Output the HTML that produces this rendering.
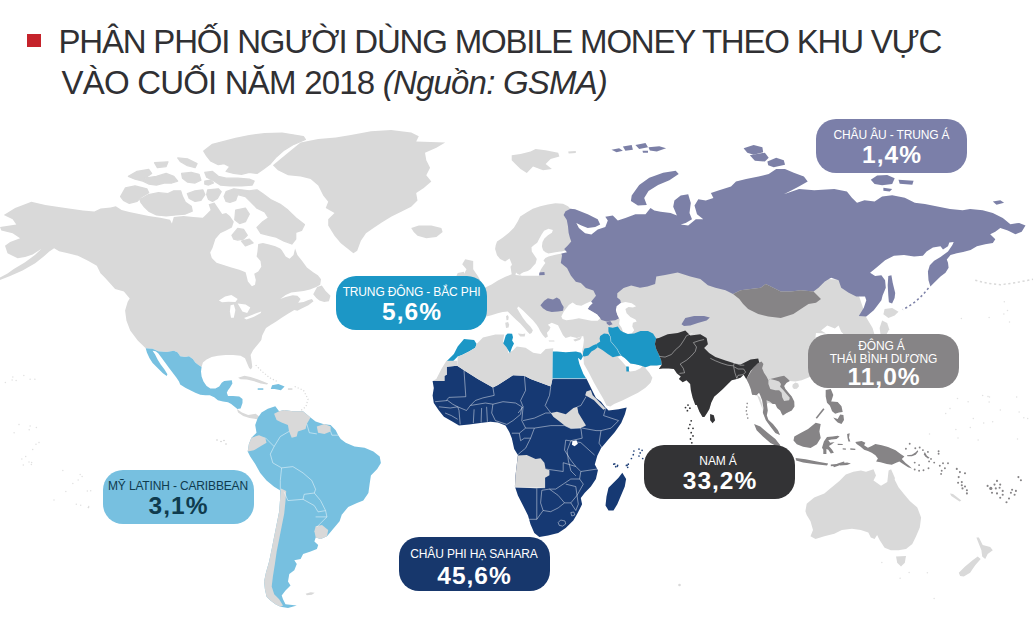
<!DOCTYPE html>
<html lang="vi">
<head>
<meta charset="utf-8">
<title>Mobile Money</title>
<style>
html,body{margin:0;padding:0;background:#fff;}
body{width:1034px;height:636px;position:relative;overflow:hidden;font-family:"Liberation Sans",sans-serif;}
#sq{position:absolute;left:27px;top:34px;width:14px;height:13px;background:#c5232b;}
.t{position:absolute;left:58.5px;white-space:nowrap;font-size:33px;line-height:40px;color:#303033;}
#t1{top:21.5px;letter-spacing:-1.2px;}
#t2{top:62.5px;left:61.5px;letter-spacing:-0.8px;}

#map{position:absolute;left:0;top:0;width:1034px;height:636px;}
.pill{position:absolute;width:151px;height:54px;border-radius:20px;color:#fff;text-align:center;}
.pill .l{position:absolute;left:-20px;right:-20px;white-space:nowrap;font-size:12px;line-height:12px;letter-spacing:-0.15px;}
.pill .n{position:absolute;left:0;right:0;font-weight:bold;font-size:24.5px;line-height:24px;white-space:nowrap;letter-spacing:1px;text-indent:1px;}
</style>
</head>
<body>
<svg id="map" viewBox="0 0 1034 636">
<!--MAP-->
<path d="M3.8,215 15.1,208 31.4,201.7 45.3,205 65.4,208 83,210.5 94.3,211.5 100.6,208.5 110.6,207.5 115.8,206.2 121.6,210.1 129.3,212 139,214 148.7,215.9 160.3,217.8 170,219.8 171.9,223.6 173.8,216.9 183.5,215.9 193.2,216.9 202.8,217.8 206.7,214 210.6,210.1 208.6,204.3 214.4,202.4 218.3,208.2 222.2,214 226.1,213 229.9,215.9 233.8,221.7 231.9,227.5 226.1,230.4 220.3,233.3 215.4,239.1 212.5,248 210.2,252.5 211.8,258 216.5,262.7 223.6,265.1 231.4,267.4 239.3,269.8 245.6,272.2 246.4,275.3 247.9,281.6 251.9,286.3 255,284.7 255.8,280 254.2,273.7 258.2,271.4 261.3,266.7 260.5,261.1 256.6,256.4 257.4,251.7 258.2,243.9 262.9,243.1 269.2,244.6 275.4,246.2 280.2,248.6 281.7,250.1 285.7,256.4 289.6,258.8 293.5,254.9 295.1,248.6 297.4,254.9 302.2,261.1 306.9,267.4 313.2,272.2 317.9,275.3 321,279.2 320.2,284.7 316.3,287.1 310,289.4 303.7,291 297.4,291.8 291.2,292.6 285.7,294.9 280.2,298.9 285.7,297 292.7,295.3 297.4,295.7 300.6,298.9 298.2,302.8 303.7,302 308.4,300.1 311.9,298.9 313.5,301.2 308.4,305.2 302.2,308.3 297.4,310.7 294.3,309.9 288,313.8 281.7,317.7 277,320.9 270.7,325 273.5,323 266,328.1 262.2,335.6 261.3,340 259.4,342.5 253.2,350.1 250.6,355.1 251.6,361.4 252.3,367 250.9,369.5 249.1,367.9 247.1,363.3 245,358.2 240.6,355.7 233,355.1 225.5,355.1 217.9,355.7 211.7,357 206.6,359.5 202.9,362.6 201.6,367 198.5,365.1 195.3,362.6 192.8,358.9 189,356.3 185.3,357 180.2,356.3 177.7,352.6 173.9,350.7 166.4,351.9 158.2,351.3 152.6,348.8 145.7,348.2 137.7,340.6 130.2,330.6 126.4,320.5 125.1,310.5 127.7,301.7 129.7,298.4 123.9,291.6 115.1,289.1 105,277.8 100,272.7 100.6,273.4 96.8,265.8 88,260.8 77.9,255.8 67.9,253.3 59.1,251.3 54.1,248.2 49,251.8 44,256.3 35.2,263.3 22.6,270.4 10.1,275.9 0,279.9 0,277.4 7.5,273.4 13.8,268.9 25.1,262.3 35.2,254.8 41.5,248.7 32.7,254.5 25.1,257 17.6,258.3 7.5,253.3 5,245.7 10.1,242 20.1,238.2 12.6,233.2 1.3,230.6 0,226.9 16.3,224.4 12.6,219.3Z" fill="#d9d9d9" />
<path d="M313.2,294.2 317.1,287.1 321.8,285.5 325.7,291 330.5,295.7 328.9,301.2 324.2,302 319.4,300.4 316.3,298.1Z" fill="#d9d9d9" />
<path d="M218.9,300.4 225.1,296.5 231.4,294.9 237.7,298.9 235.4,302 228.3,301.7 222,302.3Z" fill="#ffffff" />
<path d="M230.6,305.2 233.8,304.4 235.4,309.9 233.8,317.7 231,317.7 229.9,311.4Z" fill="#ffffff" />
<path d="M237.7,303.6 245.6,304.4 250.3,307.5 247.2,313 242.4,311.4 240.1,307.5Z" fill="#ffffff" />
<path d="M244,318 251.9,314.9 261.3,311.4 260.8,313 253.4,317.1 246.4,319.6Z" fill="#ffffff" />
<path d="M120.6,196.6 125.5,187.9 135.1,185.9 146.8,188.8 148.7,192.7 141.9,196.6 137.1,201.4 129.3,203.3 123.5,200.4Z" fill="#d9d9d9" stroke="#d9d9d9" stroke-width="1.3" stroke-linejoin="round"/>
<path d="M140,199.5 148.7,194.6 158.4,192.7 168,193.7 173.8,190.8 180.6,190.8 182.5,196.6 185.4,202.4 191.2,206.2 192.2,211.1 185.4,214 175.8,214.9 166.1,215.9 156.4,214.9 148.7,211.1 143.8,206.2 140.9,202.4Z" fill="#d9d9d9" stroke="#d9d9d9" stroke-width="1.3" stroke-linejoin="round"/>
<path d="M128.4,176.3 137.1,171.4 148.7,169.5 151.6,173.4 144.8,178.2 156.4,176.3 166.1,173.4 173.8,176.3 177.7,181.1 171.9,183 164.2,183 156.4,185 148.7,184 142.9,181.1 135.1,179.2Z" fill="#d9d9d9" stroke="#d9d9d9" stroke-width="1.3" stroke-linejoin="round"/>
<path d="M154.5,162.7 168,161.8 166.1,166.6 157.4,167.6Z" fill="#d9d9d9" stroke="#d9d9d9" stroke-width="1.3" stroke-linejoin="round"/>
<path d="M177.7,157.9 187.4,158.8 197,163.7 195.1,167.6 187.4,165.6 180.6,161.8Z" fill="#d9d9d9" stroke="#d9d9d9" stroke-width="1.3" stroke-linejoin="round"/>
<path d="M181.6,173.4 191.2,172.4 199,174.3 200.9,180.1 195.1,183 187.4,182.1 182.5,178.2Z" fill="#d9d9d9" stroke="#d9d9d9" stroke-width="1.3" stroke-linejoin="round"/>
<path d="M203.8,151.1 212.5,144.3 224.1,141.4 235.7,138.5 249.3,135.6 264.7,133.7 282.1,133.1 303.4,136.6 305.4,139.5 293.8,144.3 284.1,150.1 276.3,156.9 270.5,163.7 262.8,169.5 257,173.4 249.3,172.4 241.5,174.3 233.8,173.4 226.1,171.4 229.9,166.6 224.1,163.7 218.3,164.7 210.6,160.8 206.7,155.9Z" fill="#d9d9d9" stroke="#d9d9d9" stroke-width="1.3" stroke-linejoin="round"/>
<path d="M204.8,172.4 212.5,171.4 218.3,176.3 226.1,178.2 237.7,178.2 249.3,179.2 254.1,181.1 252.2,185 241.5,185.9 229.9,185.9 220.3,185 214.4,181.1 206.7,177.2Z" fill="#d9d9d9" stroke="#d9d9d9" stroke-width="1.3" stroke-linejoin="round"/>
<path d="M204.8,181.1 210.6,180.1 213.5,183 208.6,185 204.8,184Z" fill="#d9d9d9" stroke="#d9d9d9" stroke-width="1.3" stroke-linejoin="round"/>
<path d="M187.4,193.7 195.1,190.8 202.8,189.8 204.8,194.6 200.9,200.4 195.1,201.4 189.3,198.5Z" fill="#d9d9d9" stroke="#d9d9d9" stroke-width="1.3" stroke-linejoin="round"/>
<path d="M207.7,189.8 218.3,188.8 221.2,191.7 217.4,198.5 212.5,201.4 208.6,199.5 206.7,194.6Z" fill="#d9d9d9" stroke="#d9d9d9" stroke-width="1.3" stroke-linejoin="round"/>
<path d="M224.1,196.6 226.1,191.7 233.8,188.8 241.5,189.8 249.3,190.8 257,189.8 262.8,193.7 270.5,199.5 280.2,204.3 287.9,210.1 295.7,217.8 304.4,224.6 301.5,230.4 295.7,232.4 295.7,239.1 291.8,244 284.1,241.1 276.3,237.2 268.6,235.3 260.9,233.3 257,227.5 262.8,221.7 268.6,217.8 264.7,212 257,208.2 251.2,202.4 245.4,196.6 237.7,194.6 235.7,200.4 229.9,202.4 226.1,201.4Z" fill="#d9d9d9" stroke="#d9d9d9" stroke-width="1.3" stroke-linejoin="round"/>
<path d="M235.7,210.1 245.4,208.2 249.3,214 245.4,221.7 239.6,223.6 234.8,219.8Z" fill="#d9d9d9" stroke="#d9d9d9" stroke-width="1.3" stroke-linejoin="round"/>
<path d="M231.9,235.3 237.7,228.5 243.5,229.4 247.3,235.3 243.5,239.1 237.7,240.1 233.8,239.1Z" fill="#d9d9d9" stroke="#d9d9d9" stroke-width="1.3" stroke-linejoin="round"/>
<path d="M241.5,241.1 249.3,239.1 253.1,243 245.4,245.9Z" fill="#d9d9d9" stroke="#d9d9d9" stroke-width="1.3" stroke-linejoin="round"/>
<path d="M272.9,165.3 288,152.7 300.6,142.6 318.2,138.9 335.8,137.6 350.9,135.1 371,131.3 391.1,130.1 411.2,132.6 418.8,136.3 416.2,141.4 445.2,142.6 436.4,147.7 425,152.7 426.3,160.2 430.1,167.8 426.3,175.3 431.3,181.6 423.8,187.9 416.2,192.9 417.5,200.5 411.2,206.8 401.2,211.8 391.1,216.8 381,223.1 373.5,228.1 366,233.2 360.9,240.7 357.2,250.8 353.4,253.3 347.1,248.2 340.8,243.2 334.5,235.7 328.2,225.6 328.2,219.3 334.5,213 325.7,208 328.2,201.7 323.2,195.4 318.2,185.4 310.6,179.1 300.6,176.6 288,175.3 277.9,170.3Z" fill="#d9d9d9" />
<path d="M411.2,228.1 418.8,225.6 431.3,225.6 441.4,228.1 442.6,231.9 436.4,236.9 426.3,238.2 417.5,235.7 413.7,231.9Z" fill="#d9d9d9" />
<path d="M145.7,348.2 152.6,348.8 158.2,351.3 166.4,351.9 173.9,350.7 177.7,352.6 180.2,356.3 185.3,357 189,356.3 192.8,358.9 195.3,362.6 198.5,365.1 201.6,367 201,371.4 201.6,376.5 203.5,381.5 206.6,385.9 210.4,388.4 215.4,388.4 219.2,386.5 221.7,382.7 224.2,380.9 231.8,380.2 232.4,383.4 229.9,387.8 228,390.3 226.8,392.8 228,395.9 233,395.9 239.3,396.6 242.5,399.1 242.5,402.9 240.6,408.5 237.4,409.1 234.3,406.6 231.2,404.1 228,402.2 223,401.6 217.9,400.3 214.2,397.2 209.8,395.3 205.4,395.3 200.3,394.7 195.3,392.8 190.3,390.3 185.3,387.8 180.2,384.6 179,381.5 176.5,377.7 172.7,372.7 168.9,367.7 165.1,362.6 161.4,357.6 158.2,353.2 155.7,351.3 152.6,350.7 155.1,354.5 157.6,359.5 160.7,364.5 164.5,369.5 167.4,374.2 166.7,376.1 162.6,372.9 157.6,367.9 152.6,362.9 149.4,357.9 146.9,352.6Z" fill="#77c0e0" />
<path d="M236.9,409.1 241.9,412.4 248.2,414.9 255.7,413.7 259.5,416.7 257,419.2 249.4,417.9 243.2,415.9 238.1,412.4Z" fill="#d9d9d9" />
<path d="M238.1,377.7 244.4,375.8 250.6,377.1 256.9,379 263.2,381.5 268.2,383.4 267,384.6 260.7,383.4 253.2,380.9 246.9,379.6 240.6,379.2Z" fill="#d9d9d9" />
<path d="M272.1,385.3 278.4,384 284.6,386.5 280.9,390.3 274.6,389 270.8,389Z" fill="#77c0e0" />
<path d="M257.7,388.3 263.3,388.3 263.3,389.8 257.7,389.8Z" fill="#77c0e0" />
<path d="M287.9,388.3 292.4,388.3 292.4,389.8 287.9,389.8Z" fill="#d9d9d9" />
<path d="M257.7,418.1 261.5,412.6 267.8,408.8 275.3,406.3 279.1,411.3 284.1,410.1 292.9,411.3 303,411.3 310.5,417.6 315.6,421.4 323.1,423.9 330.6,425.1 335.7,430.2 338.2,435.2 340.7,439 345.7,442.7 354.5,446.5 364.6,447.8 373.4,451.5 379.7,456.6 380.9,462.9 377.2,469.1 370.9,475.4 369.6,484.2 368.4,493 363.3,500.6 357,503.1 348.2,506.9 342,514.4 342.1,513.7 339.6,521.3 333.3,528.8 327,536.3 320.7,538.9 315.7,537.6 314.4,541.4 318.2,545.1 316.9,548.9 310.6,551.4 303.1,553.9 300.6,559 294.3,560.2 296.8,564 294.3,570.3 289.3,574.1 288,581.6 290.5,585.4 285.5,590.4 281.7,595.4 283,599.2 285.5,604.2 296.8,605.5 288,608 280.5,606.8 275.4,604.2 270.4,600.5 266.6,596.7 264.9,589.2 264.1,581.6 265.9,572.8 269.1,561.5 271.7,548.9 274.2,536.3 276.7,523.8 279.2,511.2 280,499.9 281,489.8 280.3,500.6 280.3,490.5 274.1,486.8 266.5,480.5 260.2,472.9 255.2,464.1 250.2,456.6 247.7,451.5 248.9,444 251.4,437.7 256.5,432.7 255.2,425.1Z" fill="#77c0e0" />
<path d="M281,488.6 286.2,491.1 285.5,501.1 284.2,513.7 281.7,526.3 279.2,538.9 276.7,551.4 274.9,564 272.9,576.6 271.7,586.6 274.2,594.2 279.2,599.2 283,605.5 280.5,606.8 275.4,604.2 270.4,600.5 266.6,596.7 264.9,589.2 264.1,581.6 265.9,572.8 269.1,561.5 271.7,548.9 274.2,536.3 276.7,523.8 279.2,511.2 280,499.9Z" fill="#d9d9d9" />
<path d="M274.1,413.8 279.1,411.3 284.1,410.1 292.9,411.3 303,411.3 310.5,417.6 306.8,423.9 305.5,428.9 297.9,431.4 296.7,436.5 291.7,437.7 289.1,431.4 287.9,425.1 281.6,422.6 276.6,420.1Z" fill="#d9d9d9" />
<path d="M316.8,426.4 324.4,423.9 330.6,426.4 330.6,431.4 324.4,433.9 318.1,432.7Z" fill="#d9d9d9" />
<path d="M251.4,437.7 259,435.2 265.3,437.7 266.5,442.7 260.2,446.5 253.9,450.3 247.7,451.5 248.9,444Z" fill="#d9d9d9" />
<path d="M315.7,526.3 322,525 328.2,530.1 327,536.3 320.7,538.9 315.7,537.6 314.4,531.3Z" fill="#d9d9d9" />
<path d="M305.6,593.7 310.6,592.2 314.7,592.7 311.9,594.7 306.9,595.2Z" fill="#d9d9d9" />
<path d="M432.6,381.1 444.4,381.1 444.4,375.8 446.7,374.8 446.7,366.8 457.2,365.8 464,370.3 477.8,379.1 492.9,387.4 497.9,384.9 513,375.3 524.4,375.8 530.6,379.1 550.8,386.6 552.5,378.6 586.2,378.6 587,379.8 591,387.9 593.5,392.9 596,397.9 601,401.7 604.8,406.8 608.6,410.5 618.6,409.3 626.7,407.5 624.9,414.3 621.2,423.1 614.9,431.9 607.3,440.7 601,448.2 597.3,455.8 594.8,464.6 597.9,470.2 595.9,479 590.9,486.6 584.6,492.9 580.8,497.9 582.1,504.2 579.6,509.2 577,514.2 573.3,520.5 565.7,528.1 558.2,533.1 548.1,535.6 539.3,536.9 534.3,533.1 530.5,524.3 528,515.5 523,505.4 517.9,495.4 514.9,486.6 515.4,476.5 516.7,465.2 517.9,455.1 514.2,448.9 511.8,438.2 509.3,431.9 505.5,425.6 497.9,422.6 490.4,421.8 480.3,423.1 469,424.4 459,425.6 452.7,421.8 443.9,416.8 438.9,410.5 433.8,403 432.6,395.4 433.8,387.9Z" fill="#163973" />
<path d="M464,338.9 474.1,340.1 476.6,343.9 475.3,347.7 469,351.4 461.5,355.2 457.7,356.5 452.7,361.5 446.4,361.5 453.9,353.9 457.7,346.4Z" fill="#1c97c6" />
<path d="M446.4,360.7 457.2,360.7 457.2,365.8 446.7,366.8 446.7,374.8 444.4,375.8 444.4,381.1 432.6,381.1 436.3,379.1 441.4,369Z" fill="#d9d9d9" />
<path d="M476.6,343.9 482.9,337.6 495.4,334.6 504.2,334.6 503,341.4 506.8,346.4 508.5,353.2 513,350.2 516.8,346.4 525.6,347.7 533.2,352.7 540.7,353.9 545.7,348.9 553.3,348.2 552.8,351.4 552.5,379.1 550.8,386.6 530.6,379.1 524.4,375.8 513,375.3 497.9,384.9 492.9,387.4 477.8,379.1 464,370.3 457.2,365.8 457.7,356.5 461.5,355.2 469,351.4 475.3,347.7Z" fill="#d9d9d9" />
<path d="M503.3,343.5 505.8,335.3 507.7,333.5 512.1,333.8 513,337.2 512.1,340.4 514,343.5 512.1,347.3 510,352.9 508.3,350.4 506.5,347.3Z" fill="#1c97c6" />
<path d="M552.8,351.4 557,351.4 565.8,352.2 575.9,351.4 580.9,352.7 582.9,356.5 580.9,360.2 577.9,357.7 579.4,364 583.4,374.1 586.2,378.6 552.5,378.6Z" fill="#1c97c6" />
<path d="M550.8,413 557,411.8 565.8,414.3 573.4,408 577.2,406.8 578.4,413 582.2,419.3 586,425.6 580.9,428.1 570.9,428.6 564.6,425.6 558.3,420.6 553.3,416.8Z" fill="#d9d9d9" />
<path d="M586.4,391.5 590.8,390 592.7,395.3 597.7,400.3 602.8,405.4 605.5,408.5 603.4,409.8 599,405.4 594,400.3 588.9,397.2 585.2,395.3Z" fill="#d9d9d9" />
<path d="M517.9,455.6 526.8,455.1 535.6,458.9 540.6,458.2 544.4,462.7 545.6,469 549.4,470.2 549.4,475.3 545.1,477.8 545.1,487.8 535.6,488.3 514.9,487.3 515.4,476.5 516.7,465.2Z" fill="#d9d9d9" />
<path d="M622.3,472.7 626.1,479 624.8,486.6 621,495.4 617.3,504.2 613.5,510.5 608.5,510.5 605.5,505.4 606.5,496.6 608.5,487.8 613.5,482.8 618.5,477.8Z" fill="#163973" />
<path d="M572.4,441.2 576.4,440.2 577.9,443.7 574.6,446.2 571.9,444.7Z" fill="#ffffff" />
<path d="M570.5,208.8 568,206.3 563,203.8 555.4,203.2 547.9,204.4 540.3,206.3 532.8,208.8 526.5,212.6 520.2,216.4 517.7,221.4 513.9,227.7 508.9,232.7 502.6,237.7 497,241.5 495.7,245.3 495.1,249.1 497,255.3 500.1,259.1 505.1,261.4 509.5,258.5 511.4,262.9 512.9,267.9 515.2,271.7 517.7,274 521.5,275.5 540.3,275.5 548.5,275.5 563,275.5 575.6,257.9 575.6,213.9Z" fill="#d9d9d9" />
<path d="M561.3,255.4 553.2,255.9 549.4,258.5 548.2,263.5 544.4,266.8 540.6,271.8 530.6,274.3 520.5,275.6 515.5,275 516.8,268 514.2,261.7 510.5,266.8 511.7,274.3 505.4,276.8 497.9,280.6 491.6,284.4 484.1,288.1 476.5,289.4 484.1,293.2 486.6,298.2 480,305 470,304 445,306 440,325 455,329 475,327 486.3,316.5 491.4,315.2 497.7,313.3 502.7,312.1 507.7,311.5 511.5,315.2 515.3,319 520.3,323.4 524.1,327.8 527.2,331.6 529.7,334.1 531.6,333.1 532.9,330.3 530.3,326.5 526.6,322.8 522.8,317.7 519.7,312.7 517.1,308.3 518.4,306.4 522.8,310.2 527.8,315.2 532.9,320.3 536.6,324.7 538.5,327.8 540.4,331.6 542.9,335.3 545.4,337.9 547.9,336.6 546.9,332.8 549.2,330.3 550.5,327.2 547.9,324.7 551.7,322.8 558,325.3 560.5,330.3 563,335.3 565.6,337.9 570.6,336.6 576.9,337.9 583.2,336 583.8,339.1 583.9,340.3 583.3,345.3 582.6,349.1 582,351.6 583.4,357 583.9,363.9 588.9,372.7 594,382.7 599,391.5 603.4,399.1 606.5,405.4 610.3,406.6 614.1,404.1 622.9,400.3 630.4,396.6 638,392.8 645.5,387.8 650.6,382.7 652.4,377.7 649.3,372.7 645.5,368.3 643.6,364.8 640.5,368.3 635.5,370.8 630.4,371.4 628.9,370.8 629.2,367 627.3,367 626.7,367 622.9,362.6 617.9,357 621,355.4 624.7,357.9 627.9,361 630.4,363.5 635.4,364.2 640.5,365.4 645.5,367.3 650.5,365.4 656.8,365.4 661.8,364.8 658.8,369 662.6,368.4 668.9,368.4 673.9,369 677,373.4 680.8,376.5 678.9,379.1 682.7,382.2 686.5,380.3 690.2,384.1 690.9,390.4 692.7,397.9 695.3,405 696.8,405.1 699.3,411.4 702.5,417 704.4,417 706.9,413.3 709.4,408.9 711.3,402.6 714.4,396.3 714.1,396.7 717.9,393.5 722.9,389.1 727.9,384.1 731.7,380.3 736.8,379.1 740.5,377.8 743.7,374.7 746.2,379.1 746.4,379 748.9,384 750.8,389 752.1,394.7 756.5,395.3 759,392.8 762.1,392.8 764,397.8 765.3,404.1 765.9,410.4 764,412.9 756.6,393.9 760.3,397.7 762.4,405.2 762.9,412.7 765.9,420.3 770.4,426.6 775.4,432.9 780,434.9 777.9,430.3 772.9,424.1 767.9,419 766.6,414 765.4,407.7 767.9,402.7 772.8,404.1 775.3,404.1 777.2,407.9 780.3,410.4 781.6,413.5 782.9,415.4 786.6,412.9 791.7,410.4 794.4,406.6 794.2,401.6 791.7,396.6 788.5,392.8 785.4,389 784.1,385.9 786.6,382.7 789.8,380.9 795.4,381.5 801.7,380.2 808,377.7 810.5,376.5 816,333 826.1,333.5 821,330.5 827.3,325.4 834.9,328.5 838.6,325.4 841.2,331.7 846.2,336.8 875.1,336.8 872.6,327.9 866.3,317.4 853.7,280.2 740.6,275.1 665.1,265.1 631.2,275.6 590.9,280.6 580.9,255.4Z" fill="#d9d9d9" />
<path d="M575.1,209.3 587.7,214.3 597.7,219.3 600.2,224.4 595.2,226.9 587.7,228.1 581.4,225.6 576.3,223.1 578.9,228.1 585.1,233.2 591.4,234.4 597.7,229.4 605.3,226.9 607.8,220.6 605.3,216.8 612.8,215.6 617.8,220.6 625.4,218.1 635.4,214.3 645.5,214.3 650.5,208 654.3,210.5 660.6,211.8 670.6,213 676.9,215.6 673.2,206.8 674.4,200.5 680.7,195.4 688.2,194.2 690.8,203 689.5,213 692,219.3 685.7,223.1 680.7,224.4 688.2,225.6 695.8,219.3 703.3,219.3 697,214.3 694.5,205.5 698.3,199.2 705.8,200.5 713.4,197.9 710.9,192.9 718.4,190.4 731,186.6 736,181.6 746.1,179.1 758.6,176.6 768.7,174.1 776.2,169 785,169 793.8,172.8 803.9,176.6 807.7,181.6 798.9,186.6 791.3,190.4 783.8,194.2 799.1,189 814.2,190.2 834.3,189 846.9,191.5 851.9,197.8 857,202.8 864.5,200.3 874.6,201.5 882.1,196.5 892.2,195.3 904.8,197.8 914.8,202.8 924.9,204.1 937.4,206.6 950,209.1 962.6,210.3 970.1,209.1 982.7,210.3 992.8,212.9 1002.8,217.9 1010.4,224.2 1019.2,222.9 1025.5,225.4 1021.7,231.7 1015.4,234.2 1007.8,230.5 1000.3,227.9 995.3,231.7 990.2,234.2 995.3,239.3 992.8,243 985.2,244.3 976.9,246.3 970.6,250.1 963.1,252 956.8,253.3 950.5,255.1 946.8,259.5 948,262.7 948.6,267.7 945.5,272.7 940.5,276.5 935.4,281.5 930.4,286.6 928.5,280.3 927.9,271.5 929.8,265.2 934.2,260.8 940.5,257 948,251.4 952.4,245.1 953.7,241.9 949.3,242.6 948,246.3 943,249.5 940.5,246.3 932.9,247.6 926.6,251.4 922.9,255.8 914.1,256.4 904,255.1 893.9,255.8 885.1,260.2 876.3,267.7 870.1,272.7 875.1,275.9 881.4,275.3 885.1,280.3 885.8,287.8 882.6,295.4 881.4,300.3 873.8,310.3 866.3,316.6 858.8,315.9 863.8,307.8 866.3,300.3 865,296.5 856.2,296.5 848.7,292.7 841.2,287.7 838.6,280.2 831.1,277.7 824.8,281.4 818.5,287.7 813.5,291.5 800.9,290.2 790.9,291.5 780.8,291.5 773.3,287.7 765.7,283.9 760.7,287.7 750.6,289 740.6,290.2 733,294 725.5,290.2 715.4,287.7 707.9,285.2 700.3,278.9 690.3,276.4 677.7,272.6 665.1,275.1 656.3,276.4 655.1,283.9 647.5,286.5 640,287.7 631.2,285.6 623.6,288.1 617.3,293.2 617.2,297.5 620.3,300.1 621,303.2 617.8,306.3 615.9,310.1 617.2,314.5 619.1,318.3 615.3,320.2 610.3,320.8 606.5,321.4 601.5,319.9 600.2,318.3 597.1,314.5 592.1,311.4 587.7,308.9 590.9,302 596,295.7 593.4,290.6 585.9,288.1 580.9,283.1 575.8,281.8 570.8,275.6 567,268 560.8,263 562,255.4 560.8,251.7 566.8,252.2 564.2,249.1 568,245.3 571.2,241.5 569.9,237.7 568.6,232.7 568,226.4 566.8,220.1 563.6,215.1 565.5,211.3 570.5,208.8Z" fill="#7c80a7" />
<path d="M606.5,321.7 610.3,321.1 612.6,324.2 609.3,325.5 606.8,323.7Z" fill="#7c80a7" />
<path d="M540.4,305.2 544.2,300.8 547.9,298.3 553,299.5 556.8,297.6 559.9,299.5 561.8,303.9 563.7,307.1 563,310.8 558,311.5 551.7,312.1 546.7,310.8 542.9,308.3Z" fill="#7c80a7" />
<path d="M538.1,272.5 544.4,272 544.7,275 538.6,275.3Z" fill="#7c80a7" />
<path d="M631.7,195.4 639.2,184.9 649.3,177.8 663.1,172.8 675.7,170.8 678.7,174.1 669.4,180.3 658.1,184.9 648.5,190.9 644.2,197.9 646.8,205 637.9,205.5 630.9,201Z" fill="#7c80a7" />
<path d="M743.6,148.2 753.6,145.1 762.4,147.2 763.2,152.2 753.6,154.7 747.3,152.7Z" fill="#7c80a7" />
<path d="M749.8,155.2 764.9,152.7 768.7,157.7 764.9,161.5 754.9,160.7Z" fill="#7c80a7" />
<path d="M767.4,161.5 776.2,157.7 783.8,160.2 785,164.8 773.7,167.3 768.2,165.3Z" fill="#7c80a7" />
<path d="M888.3,275.9 891.4,275.3 892.7,282.8 895.2,292.9 894.6,297.9 892.1,303.5 888.9,302.3 888.3,295.4 887.7,285.3Z" fill="#7c80a7" />
<path d="M870.8,179.7 877.1,175.6 887.2,175.1 894.7,178.2 892.2,183.9 882.1,185.2 874.6,183.9Z" fill="#7c80a7" />
<path d="M898.5,179.7 913.6,180.7 912.3,184.7 899.7,183.7Z" fill="#7c80a7" />
<path d="M883.4,187.7 892.2,189 889.7,191.5 883.4,190.7Z" fill="#7c80a7" />
<path d="M992.8,201.5 1000.3,200.3 1004.1,202.8 996.5,204.8Z" fill="#7c80a7" />
<path d="M681.5,324.2 685.3,317.9 694.1,315.9 704.1,315.9 709.9,317.4 706.6,320.4 697.8,322.9 690.3,325.4 684,325.9Z" fill="#7c80a7" />
<path d="M561.3,316.4 563.8,311.4 568.8,305.1 572.6,302.6 576.3,305.1 581.4,305.7 586.4,303.2 590.8,301.3 592.7,303.2 589.5,306.3 587.7,308.9 592.1,311.4 597.1,314.5 600.2,318.3 597.7,320.8 591.4,320.8 585.1,319.5 578.9,318.3 572.6,319.5 566.3,320.2 562.5,318.9Z" fill="#ffffff" />
<path d="M616.6,306.3 620.3,303.2 625.4,301.9 631.7,303.2 636.1,306.3 632.9,307.6 628.5,307 625.4,308.9 626.6,313.3 630.4,317 635.4,319.5 636.7,321.4 632.9,322.7 632.3,326.5 634.2,330.2 631.7,333.4 626.6,334 622.9,331.5 621.6,327.7 619.1,323.9 619.7,319.5 617.2,314.5 615.9,310.1Z" fill="#ffffff" />
<path d="M733,294 740.6,290.2 750.6,289 760.7,287.7 765.7,283.9 773.3,287.7 780.8,291.5 790.9,291.5 800.9,290.2 813.5,291.5 821,299 816,302.8 808.5,304.1 800.9,309.1 793.4,314.1 780.8,317.9 768.2,316.6 758.2,314.1 748.1,309.1 743.1,304.1 739.3,299Z" fill="#868486" />
<path d="M608.4,327.1 612.8,327.7 617.8,326.5 620.3,330.2 622.9,332.1 627.9,334 634.2,333.4 640.5,330.9 648,330.9 653,333.4 656.2,338.4 654.9,344.1 656.2,349.1 659.3,355.4 661.2,360.4 661.8,364.8 656.8,365.4 650.5,365.4 645.5,367.3 640.5,365.4 635.4,364.2 630.4,363.5 627.9,361 624.7,357.9 621,355.4 619.1,352.9 617.2,349.1 614.1,345.3 610.9,341.5 610.3,336.5 608.4,331.5Z" fill="#1c97c6" />
<path d="M600.2,335.9 604,333.4 608.4,334 610.3,336.5 610.9,341.5 614.1,345.3 617.2,349.1 619.1,352.9 621,355.4 617.8,356 612.8,357.3 607.8,354.1 602.7,350.3 597.7,347.2 596.5,344.1 600.2,341.5 599.6,338.4Z" fill="#1c97c6" />
<path d="M593.3,345.3 596.5,344.1 597.7,347.2 594.6,349.7 591.4,351.6 588.3,355.4 584.5,356.6 582.6,356 583.3,351.6 584.5,348.5 588.9,347.8Z" fill="#1c97c6" />
<path d="M626.2,366.5 628.7,366.5 629,371.5 626.4,371.5Z" fill="#1c97c6" />
<path d="M573.2,339.7 578.9,337.8 582,336.5 580.1,339.7 575.1,341.5Z" fill="#d9d9d9" />
<path d="M548.5,228.7 552.9,230 551.9,232.7 547.9,235.2 544.4,238.4 542.5,242.1 541.9,246.5 543.1,250.3 545.4,252.2 548.5,253.6 555.4,252.2 565.5,250.7 566.8,252.2 561.7,253.6 555.4,254.7 548.5,256.4 545.4,257.9 543.5,260.4 545.4,262.9 543.5,265.4 541,269.2 539.3,272.9 539.1,275.7 521.5,275.7 520,274.2 523.4,272.3 527.8,271.1 530.5,269.2 532.6,266.7 535.6,263.5 536.8,259.1 534.3,255.3 531.8,251.6 531.5,247.2 534.1,245 537.2,242.8 539.1,239 541.6,234.6 544.1,230.8Z" fill="#ffffff" />
<path d="M517.8,333.5 522.8,334.1 525.3,333.5 524.7,336.6 520.3,336.6Z" fill="#d9d9d9" />
<path d="M505.2,322.8 508.1,321.9 509.2,324.7 508.5,327.6 506,328.1Z" fill="#d9d9d9" />
<path d="M506,316.2 507.7,315 508.7,317.1 508.2,320 506.5,320.3Z" fill="#d9d9d9" />
<path d="M548.6,340.4 554.2,340.6 554.5,341.6 549,341.6Z" fill="#d9d9d9" />
<path d="M465.2,259.2 473.2,261 473.2,269.3 478.3,276.8 481.5,283.1 476.5,288.1 462.7,288.1 467.7,280.6 463.2,275.6 466.5,269.3 462.2,264.2Z" fill="#d9d9d9" />
<path d="M457.7,273 463.9,271.8 465.2,279.3 458.9,283.1 455.1,279.3Z" fill="#d9d9d9" />
<path d="M656.2,338.4 654.9,344.1 656.2,349.1 659.3,355.4 661.2,360.4 661.8,364.8 658.8,369 662.6,368.4 668.9,368.4 673.9,369 677,373.4 680.8,376.5 678.9,379.1 682.7,382.2 686.5,380.3 690.2,384.1 690.9,390.4 692.7,397.9 695.3,405 696.8,405.1 699.3,411.4 702.5,417 704.4,417 706.9,413.3 709.4,408.9 711.3,402.6 714.4,396.3 714.1,396.7 717.9,393.5 722.9,389.1 727.9,384.1 731.7,380.3 736.8,379.1 740.5,377.8 743.7,374.7 746.2,379.1 746.4,379 750.6,370.7 754.4,366.9 759.4,363.2 758.2,358.6 750.6,359.4 745.6,361.9 740.6,364.4 734.3,363.2 725.5,360.6 715.4,356.9 709.1,353.1 704.1,348.1 707.9,344.3 706.6,338 700.3,334.2 690.3,335.5 685.3,330.5 677.7,333 667.7,334.2 658.9,338Z" fill="#333335" />
<path d="M710.1,414 713.8,415.3 715.1,420.3 712.6,423.3 710.1,420.3Z" fill="#333335" />
<path d="M746.4,379 749.5,373.9 753.3,367.7 757.7,363.3 761.5,361.4 763.4,363.9 762.1,368.3 764,372.7 766.5,376.5 768.4,380.2 770.3,379 775.3,377.7 780.3,376.5 784.1,375.8 787.9,379 789.8,380.9 786.6,382.7 784.1,385.9 785.4,389 788.5,392.8 791.7,396.6 794.2,401.6 794.4,406.6 791.7,410.4 786.6,412.9 782.9,415.4 781.6,413.5 780.3,410.4 777.2,407.9 775.3,404.1 772.8,404.1 769.7,401.6 766.5,400.3 767.1,405.4 767.8,410.4 766.8,415.4 768.4,420 772.9,424.1 777.9,430.3 780,434.9 775.4,432.9 770.4,426.6 765.9,420.3 762.9,412.7 763.4,407.9 762.1,400.3 760.2,395.3 759,392.8 756.5,395.3 752.1,394.7 750.8,389 748.9,384Z" fill="#868486" />
<path d="M768.4,380.2 770.3,379 775.3,380.2 779.1,381.5 781,384 780.1,386.8 783.5,390.3 786.6,394.1 789.8,397.8 789.1,400.3 784.1,401 782.2,397.2 781.6,392.8 779.1,390.3 775.3,390.3 770.3,389 768.4,384Z" fill="#d9d9d9" />
<path d="M754.1,424.1 760.3,426.6 767.9,432.9 775.4,439.1 780.5,445.4 777.9,446.7 770.4,442.9 762.9,436.6 756.6,430.3Z" fill="#868486" />
<path d="M794.3,436.6 800.6,432.9 808.1,429.1 815.7,422.8 820.7,424.1 819.4,431.6 820.7,437.9 816.9,444.2 810.6,447.9 803.1,446.7 796.8,444.2 793.5,440.4Z" fill="#868486" />
<path d="M822,447.8 823.9,441.5 827,437.1 832.7,436.5 837.7,435.8 839.6,436.5 836.5,439 831.4,439.6 828.3,440.2 830.2,442.7 834.6,442.1 831.4,444.6 828.9,445.9 832.1,449.7 833.9,452.8 830.8,453.4 828.3,449.7 826.4,449 826.4,454.1 823.3,454.1 823.3,449.7Z" fill="#868486" />
<path d="M795.6,458 805.6,459.3 818.2,461.8 828.2,463.5 827,465.6 815.7,464.3 803.1,462.5 796.1,460.5Z" fill="#868486" />
<path d="M830.8,464.5 837,464 837,465.8 830.8,466.3Z" fill="#868486" />
<path d="M839.6,463.5 847.1,462.5 850.9,463.5 847.1,465 839.8,465.6Z" fill="#868486" />
<path d="M833.3,466 837.7,463.5 844,461.6 844.6,462.5 839,465.4 833.9,467.3Z" fill="#868486" />
<path d="M855.3,442.1 861.6,440.9 865.4,442.7 864.1,445.3 867.9,447.8 871.7,445.9 875.4,444 881.7,445.3 888,447.1 895.6,450.3 900.6,454.1 904.4,456.6 901.8,459.1 905.6,462.9 909.4,466 911.9,468.5 908.1,467.3 903.1,464.1 899.3,461.6 895.6,462.9 891.8,464.7 886.8,464.1 880.5,462.2 876.1,461.6 877.9,458.5 875.4,455.3 871.7,452.8 867.9,450.9 864.1,449.7 860.3,446.5 856.6,444Z" fill="#868486" />
<path d="M906.9,455.3 911.9,454.7 915.7,452.2 917.6,450.3 918.2,451.5 915.7,454.7 911.9,456.3 907.5,456.3Z" fill="#868486" />
<path d="M923.8,452.8 925.1,452.6 927,455.9 929.5,457.6 928.9,458.3 925.7,456.6Z" fill="#868486" />
<path d="M847.1,433.9 849.7,433.3 849,437.7 850.3,441.5 848.4,441.5 847.5,437.7Z" fill="#868486" />
<path d="M837.7,443.8 842.7,444 842.7,445 837.7,444.9Z" fill="#868486" />
<path d="M842.7,448.2 845.9,448.5 845.9,449.8 842.7,449.5Z" fill="#868486" />
<path d="M850.3,448.3 855.3,448.8 855.3,450 850.3,449.7Z" fill="#868486" />
<path d="M825.7,390.1 830.8,388.9 833.3,395.1 830.8,402.7 834.5,406.5 832,407.7 827,402.7 825.7,396.4Z" fill="#868486" />
<path d="M833.3,417.6 837.7,418.9 840.2,414.5 843.4,415.1 844,420.1 841.5,423.9 837.7,422.6 835.2,420.1Z" fill="#868486" />
<path d="M828.9,401.3 837.7,401.9 841.5,406.3 842.7,411.9 839,412.6 835.2,413.8 832.1,411.3 830.2,406.3Z" fill="#868486" />
<path d="M815.7,417.8 823.2,408.2 824.5,409.2 816.9,418.8Z" fill="#868486" />
<path d="M792.7,384.6 795.4,382.5 798.2,383.4 799,386.3 796.9,388.8 793.9,389 792.3,387.1Z" fill="#d9d9d9" />
<path d="M805.4,511.2 806.7,503.7 814.2,497.4 824.3,493.6 831.8,487.3 839.4,481 845.8,474.4 853.4,471.8 860.9,470.6 866,471.8 873.5,469.3 876,475.6 873.5,480.6 881,485.7 887.3,481.9 888.6,470.6 891.1,469.3 894.9,478.1 894.7,479.8 898.5,487.3 903.5,493.6 909.8,501.1 917.3,507.4 921.1,517.5 919.8,527.5 916.1,536.3 912.3,543.9 906,548.9 898.5,550.2 890.9,550.2 884.6,547.7 879.6,540.1 877.1,535.1 874.6,538.9 870.8,537.6 868.3,532.6 860.8,530.1 851.9,528.8 841.9,530.1 834.3,533.8 824.3,536.3 815.5,538.9 810.5,536.3 813,530.1 810.5,521.3 806.7,515Z" fill="#d9d9d9" />
<path d="M896,556.5 906,556 904.8,562.8 901,566.5 897.2,562.8Z" fill="#d9d9d9" />
<path d="M976.4,537.6 978.9,537.6 982.7,545.1 990.2,546.9 992.8,550.2 987.7,553.9 985.2,559 982.2,556.5 981.4,550.2 978.9,543.9Z" fill="#d9d9d9" />
<path d="M958.8,572.8 965.1,566.5 972.6,560.2 977.7,556.5 980.7,559 975.2,565.3 970.1,572.8 963.8,576.6 960.1,576.1Z" fill="#d9d9d9" />
<path d="M950,493.6 953,494.1 961.3,500.6 959.6,501.6 951.3,496.1Z" fill="#d9d9d9" />
<path d="M884.6,309.1 892.2,307.9 898.5,311.7 894.7,315.4 888.4,317.9 883.4,314.2Z" fill="#d9d9d9" />
<path d="M882.1,320.5 887.2,323 889.2,329.3 885.9,335.6 880.9,336.8 879.6,328Z" fill="#d9d9d9" />
<path d="M611.5,149.7 619.1,148.2 622.9,150.7 616.6,152.2Z" fill="#7c80a7" />
<path d="M622.9,146.4 631.7,145.1 632.9,149.7 625.4,150.7Z" fill="#7c80a7" />
<path d="M635.4,145.1 645.5,143.1 648,147.2 639.2,148.9Z" fill="#7c80a7" />
<path d="M648.5,147.2 659.3,146.2 666.1,148.2 656.8,151.4 649.8,150.4Z" fill="#7c80a7" />
<path d="M642.5,150.7 648,150.7 648,152.7 643,152.7Z" fill="#7c80a7" />
<path d="M511.7,155.3 520.5,154 530.5,151.5 535.6,149 545.6,150.2 558.2,152.7 559.4,156.5 550.6,159 545.6,164.1 551.9,169.1 543.1,170.3 533,166.6 526.8,172.9 520.5,169.1 515.4,164.1 511.7,160.3Z" fill="#d9d9d9" />
<path d="M568.2,151.5 575.8,151 575.8,153 568.7,153.5Z" fill="#d9d9d9" />
<path d="M464,370.3 L465.8,396.7 L448.9,397.4 L446.4,400.5" fill="none" stroke="#ffffff" stroke-width="0.6" stroke-opacity="0.75" stroke-linejoin="round"/>
<path d="M492.9,387.4 L494.2,395.4 L482.9,397.9 L475.3,400.5 L470.3,405.5 L466.5,410.5 L457.7,406.8" fill="none" stroke="#ffffff" stroke-width="0.6" stroke-opacity="0.75" stroke-linejoin="round"/>
<path d="M524.4,375.8 L525.6,390.4 L520.6,400.5 L523.1,406.8 L518.1,413" fill="none" stroke="#ffffff" stroke-width="0.6" stroke-opacity="0.75" stroke-linejoin="round"/>
<path d="M550.8,386.6 L549.5,395.4 L545.2,405.5 L550.8,413" fill="none" stroke="#ffffff" stroke-width="0.6" stroke-opacity="0.75" stroke-linejoin="round"/>
<path d="M492.9,404.2 L503,401.7 L515.6,403 L521.8,406.8 L520.6,414.3 L513,420.6 L506.8,424.4 L495.4,420.6 L491.7,413 L492.9,404.2" fill="none" stroke="#ffffff" stroke-width="0.6" stroke-opacity="0.75" stroke-linejoin="round"/>
<path d="M586,396.7 L580.9,405.5 L577.2,406.8" fill="none" stroke="#ffffff" stroke-width="0.6" stroke-opacity="0.75" stroke-linejoin="round"/>
<path d="M606.1,406.8 L603.6,415.6 L618.6,420.6 L611.1,428.1 L601,430.6" fill="none" stroke="#ffffff" stroke-width="0.6" stroke-opacity="0.75" stroke-linejoin="round"/>
<path d="M582.2,428.1 L596,430.6 L601,430.6 L599,443.2 L602.3,448.2" fill="none" stroke="#ffffff" stroke-width="0.6" stroke-opacity="0.75" stroke-linejoin="round"/>
<path d="M570.9,428.6 L580.9,428.1 L582.2,438.2 L570.9,440.7" fill="none" stroke="#ffffff" stroke-width="0.6" stroke-opacity="0.75" stroke-linejoin="round"/>
<path d="M516.8,455.8 L519.3,453.3 L525.6,448.2 L530.6,438.2 L534.4,428.1 L550.8,425.6 L564.6,425.6 L570.9,428.6" fill="none" stroke="#ffffff" stroke-width="0.6" stroke-opacity="0.75" stroke-linejoin="round"/>
<path d="M570.9,440.7 L567.1,450.8 L568.4,460.8 L570.9,470.9 L575.9,475.9" fill="none" stroke="#ffffff" stroke-width="0.6" stroke-opacity="0.75" stroke-linejoin="round"/>
<path d="M523.1,406.8 L521.8,420.6 L525.6,428.1 L534.4,428.1" fill="none" stroke="#ffffff" stroke-width="0.6" stroke-opacity="0.75" stroke-linejoin="round"/>
<path d="M523.1,420.6 L534.4,418.1 L545.7,413 L550.8,413" fill="none" stroke="#ffffff" stroke-width="0.6" stroke-opacity="0.75" stroke-linejoin="round"/>
<path d="M511.8,433.2 L519.3,433.2 L520.6,440.7 L524.4,438.2 L530.6,438.2" fill="none" stroke="#ffffff" stroke-width="0.6" stroke-opacity="0.75" stroke-linejoin="round"/>
<path d="M519.3,433.2 L525.6,428.1" fill="none" stroke="#ffffff" stroke-width="0.6" stroke-opacity="0.75" stroke-linejoin="round"/>
<path d="M474.1,409.3 L473.3,423.1" fill="none" stroke="#ffffff" stroke-width="0.6" stroke-opacity="0.75" stroke-linejoin="round"/>
<path d="M481.6,408 L481.1,422.6" fill="none" stroke="#ffffff" stroke-width="0.6" stroke-opacity="0.75" stroke-linejoin="round"/>
<path d="M486.6,406.8 L487.4,421.8" fill="none" stroke="#ffffff" stroke-width="0.6" stroke-opacity="0.75" stroke-linejoin="round"/>
<path d="M470.3,405.5 L485.4,403 L492.9,404.2" fill="none" stroke="#ffffff" stroke-width="0.6" stroke-opacity="0.75" stroke-linejoin="round"/>
<path d="M459,410.5 L457.7,406.8 L450.2,408 L438.9,406.8" fill="none" stroke="#ffffff" stroke-width="0.6" stroke-opacity="0.75" stroke-linejoin="round"/>
<path d="M435.1,401.7 L447.7,400.5 L452.7,404.2 L457.7,406.8" fill="none" stroke="#ffffff" stroke-width="0.6" stroke-opacity="0.75" stroke-linejoin="round"/>
<path d="M445.1,413 L451.4,415.6 L457.7,419.3" fill="none" stroke="#ffffff" stroke-width="0.6" stroke-opacity="0.75" stroke-linejoin="round"/>
<path d="M459,410.5 L460.2,424.4" fill="none" stroke="#ffffff" stroke-width="0.6" stroke-opacity="0.75" stroke-linejoin="round"/>
<path d="M552.5,378.6 L586.2,378.6" fill="none" stroke="#ffffff" stroke-width="0.6" stroke-opacity="0.75" stroke-linejoin="round"/>
<path d="M514.9,487.3 L545.1,487.8" fill="none" stroke="#ffffff" stroke-width="0.6" stroke-opacity="0.75" stroke-linejoin="round"/>
<path d="M536.8,488.3 L536.8,519.3 L528,519.3 L528.5,524.3" fill="none" stroke="#ffffff" stroke-width="0.6" stroke-opacity="0.75" stroke-linejoin="round"/>
<path d="M541.8,490.3 L549.4,489.1 L558.2,495.4 L564.5,502.9 L558.2,507.9 L550.6,511.7 L543.1,510.5 L540.6,502.9 L541.8,490.3" fill="none" stroke="#ffffff" stroke-width="0.6" stroke-opacity="0.75" stroke-linejoin="round"/>
<path d="M545.6,469 L563.2,471.5 L563.2,462.7 L575.8,466.5 L580.8,471.5 L579.6,479 L570.8,479 L563.2,484.1 L555.7,489.1 L549.4,489.1" fill="none" stroke="#ffffff" stroke-width="0.6" stroke-opacity="0.75" stroke-linejoin="round"/>
<path d="M565.7,484.1 L575.8,486.6 L577,495.4 L570.8,502.9 L564.5,502.9" fill="none" stroke="#ffffff" stroke-width="0.6" stroke-opacity="0.75" stroke-linejoin="round"/>
<path d="M580.8,471.5 L597.2,469" fill="none" stroke="#ffffff" stroke-width="0.6" stroke-opacity="0.75" stroke-linejoin="round"/>
<path d="M579.6,479 L583.3,484.1 L577,495.4 L578.3,504.2 L575.8,510.5" fill="none" stroke="#ffffff" stroke-width="0.6" stroke-opacity="0.75" stroke-linejoin="round"/>
<path d="M565.7,440.1 L580.8,442.6 L594.6,455.1" fill="none" stroke="#ffffff" stroke-width="0.6" stroke-opacity="0.75" stroke-linejoin="round"/>
<path d="M565.7,440.1 L564.5,450.1 L570.8,460.2 L575.8,466.5" fill="none" stroke="#ffffff" stroke-width="0.6" stroke-opacity="0.75" stroke-linejoin="round"/>
<path d="M536.8,519.3 L543.1,510.5" fill="none" stroke="#ffffff" stroke-width="0.6" stroke-opacity="0.75" stroke-linejoin="round"/>
<path d="M570.8,502.9 L575.8,510.5" fill="none" stroke="#ffffff" stroke-width="0.6" stroke-opacity="0.75" stroke-linejoin="round"/>
<path d="M558.2,522.5 L560.7,520 L565,521 L565.7,524 L562.5,526.1 L559.2,525.3 L558.2,522.5" fill="none" stroke="#ffffff" stroke-width="0.6" stroke-opacity="0.75" stroke-linejoin="round"/>
<path d="M570.8,512.5 L573.8,512 L574.8,515 L571.8,516 L570.8,512.5" fill="none" stroke="#ffffff" stroke-width="0.6" stroke-opacity="0.75" stroke-linejoin="round"/>
<path d="M280.3,436.5 L274.1,446.5 L270.3,454.1 L272.8,462.9 L281.6,467.9" fill="none" stroke="#ffffff" stroke-width="0.6" stroke-opacity="0.8" stroke-linejoin="round"/>
<path d="M265.3,437.7 L274.1,446.5" fill="none" stroke="#ffffff" stroke-width="0.6" stroke-opacity="0.8" stroke-linejoin="round"/>
<path d="M280.3,436.5 L289.1,431.4" fill="none" stroke="#ffffff" stroke-width="0.6" stroke-opacity="0.8" stroke-linejoin="round"/>
<path d="M281.6,467.9 L292.9,466.6 L303,472.9 L311.8,480.5 L315.6,489.3 L314.3,493" fill="none" stroke="#ffffff" stroke-width="0.6" stroke-opacity="0.8" stroke-linejoin="round"/>
<path d="M281.6,467.9 L280.3,480.5 L280.3,490.5" fill="none" stroke="#ffffff" stroke-width="0.6" stroke-opacity="0.8" stroke-linejoin="round"/>
<path d="M284.1,491.8 L287.9,500.6 L303,499.3 L304.2,494.3 L314.3,493" fill="none" stroke="#ffffff" stroke-width="0.6" stroke-opacity="0.8" stroke-linejoin="round"/>
<path d="M303,499.3 L314.3,505.6 L318.1,511.9 L325.6,510.6 L326.9,516.9 L315.6,516.9" fill="none" stroke="#ffffff" stroke-width="0.6" stroke-opacity="0.8" stroke-linejoin="round"/>
<path d="M314.3,493 L320.6,500.6 L325.6,510.6" fill="none" stroke="#ffffff" stroke-width="0.6" stroke-opacity="0.8" stroke-linejoin="round"/>
<path d="M326.9,516.9 L316.8,527" fill="none" stroke="#ffffff" stroke-width="0.6" stroke-opacity="0.8" stroke-linejoin="round"/>
<path d="M306.8,423.9 L309.3,432.7 L316.8,433.9" fill="none" stroke="#ffffff" stroke-width="0.6" stroke-opacity="0.8" stroke-linejoin="round"/>
<path d="M330.6,431.4 L331.9,435.2 L338.2,435.2" fill="none" stroke="#ffffff" stroke-width="0.6" stroke-opacity="0.8" stroke-linejoin="round"/>
<path d="M659.4,356.4 L665.1,357.1 L671.4,354.5 L675.1,350.1 L680.2,345.7 L683.9,340.1 L686.5,335.7 L692.7,333.2" fill="none" stroke="#ffffff" stroke-width="0.6" stroke-opacity="0.7" stroke-linejoin="round"/>
<path d="M679.5,373.4 L684.6,372.8 L683.3,368.4 L680.2,364 L686.5,360.2 L691.5,355.8 L695.3,351.4 L696.5,347 L693.4,342.6 L699,340.7 L704.1,339.5" fill="none" stroke="#ffffff" stroke-width="0.6" stroke-opacity="0.7" stroke-linejoin="round"/>
<path d="M710.3,358.3 L715.4,360.8 L721.7,363.3 L727.9,365.2 L733.6,365.9 L734.2,362.7" fill="none" stroke="#ffffff" stroke-width="0.6" stroke-opacity="0.7" stroke-linejoin="round"/>
<path d="M733.6,366.5 L738,369 L743.7,369 L745.6,372.1 L743,374.7 L738,375.3 L736.8,378.4 L734.9,372.8 L733.6,366.5" fill="none" stroke="#ffffff" stroke-width="0.6" stroke-opacity="0.7" stroke-linejoin="round"/>
<path d="M734.2,362.7 L740.5,365.2 L744.3,365.2" fill="none" stroke="#ffffff" stroke-width="0.6" stroke-opacity="0.7" stroke-linejoin="round"/>
<path d="M608.4,334 L610.3,336.5 L610.9,341.5 L614.1,345.3 L617.2,349.1 L619.1,352.9 L621,355.4" fill="none" stroke="#ffffff" stroke-width="0.6" stroke-opacity="0.6" stroke-linejoin="round"/>
<circle cx="905.9" cy="448.8" r="0.95" fill="#868486" fill-opacity="1"/>
<circle cx="909.7" cy="443.8" r="0.95" fill="#868486" fill-opacity="1"/>
<circle cx="915.3" cy="448.2" r="0.95" fill="#868486" fill-opacity="1"/>
<circle cx="919.7" cy="447.5" r="0.95" fill="#868486" fill-opacity="1"/>
<circle cx="922.9" cy="450.1" r="0.95" fill="#868486" fill-opacity="1"/>
<circle cx="927.9" cy="451.9" r="0.95" fill="#868486" fill-opacity="1"/>
<circle cx="931" cy="458.9" r="0.95" fill="#868486" fill-opacity="1"/>
<circle cx="934.2" cy="462.6" r="0.95" fill="#868486" fill-opacity="1"/>
<circle cx="938.6" cy="451.3" r="0.95" fill="#868486" fill-opacity="1"/>
<circle cx="938.6" cy="453.8" r="0.95" fill="#868486" fill-opacity="1"/>
<circle cx="939.8" cy="465.8" r="0.95" fill="#868486" fill-opacity="1"/>
<circle cx="941.7" cy="470.8" r="0.95" fill="#868486" fill-opacity="1"/>
<circle cx="941.1" cy="473.9" r="0.95" fill="#868486" fill-opacity="1"/>
<circle cx="943" cy="463.3" r="0.95" fill="#868486" fill-opacity="1"/>
<circle cx="944.9" cy="468.3" r="0.95" fill="#868486" fill-opacity="1"/>
<circle cx="948" cy="463.3" r="0.95" fill="#868486" fill-opacity="1"/>
<circle cx="914.7" cy="462.6" r="0.95" fill="#868486" fill-opacity="1"/>
<circle cx="919.1" cy="465.1" r="0.95" fill="#868486" fill-opacity="1"/>
<circle cx="914.7" cy="469.5" r="0.95" fill="#868486" fill-opacity="1"/>
<circle cx="919.1" cy="470.8" r="0.95" fill="#868486" fill-opacity="1"/>
<circle cx="923.5" cy="470.2" r="0.95" fill="#868486" fill-opacity="1"/>
<circle cx="928.5" cy="468.3" r="0.95" fill="#868486" fill-opacity="1"/>
<circle cx="929.1" cy="461.4" r="0.95" fill="#868486" fill-opacity="1"/>
<circle cx="956.8" cy="468.9" r="1.05" fill="#868486" fill-opacity="1"/>
<circle cx="959.9" cy="472.1" r="1.05" fill="#868486" fill-opacity="1"/>
<circle cx="965" cy="473.3" r="1.05" fill="#868486" fill-opacity="1"/>
<circle cx="958.7" cy="477.1" r="1.05" fill="#868486" fill-opacity="1"/>
<circle cx="958.1" cy="482.7" r="1.05" fill="#868486" fill-opacity="1"/>
<circle cx="961.8" cy="482.1" r="1.05" fill="#868486" fill-opacity="1"/>
<circle cx="961.8" cy="485.3" r="1.05" fill="#868486" fill-opacity="1"/>
<circle cx="965" cy="486.5" r="1.05" fill="#868486" fill-opacity="1"/>
<circle cx="962.5" cy="488.4" r="1.05" fill="#868486" fill-opacity="1"/>
<circle cx="966.9" cy="490.3" r="1.05" fill="#868486" fill-opacity="1"/>
<circle cx="966.9" cy="493.4" r="1.05" fill="#868486" fill-opacity="1"/>
<circle cx="987.6" cy="485.9" r="1.05" fill="#868486" fill-opacity="1"/>
<circle cx="994.5" cy="484.6" r="1.05" fill="#868486" fill-opacity="1"/>
<circle cx="995.8" cy="488.4" r="1.05" fill="#868486" fill-opacity="1"/>
<circle cx="997" cy="480.9" r="1.05" fill="#868486" fill-opacity="1"/>
<circle cx="1000.2" cy="484.6" r="1.05" fill="#868486" fill-opacity="1"/>
<circle cx="999.6" cy="487.8" r="1.05" fill="#868486" fill-opacity="1"/>
<circle cx="1002.7" cy="490.9" r="1.05" fill="#868486" fill-opacity="1"/>
<circle cx="1002.7" cy="494.7" r="1.05" fill="#868486" fill-opacity="1"/>
<circle cx="1000.2" cy="497.8" r="1.05" fill="#868486" fill-opacity="1"/>
<circle cx="997" cy="493.4" r="1.05" fill="#868486" fill-opacity="1"/>
<circle cx="992" cy="492.8" r="1.05" fill="#868486" fill-opacity="1"/>
<circle cx="990.8" cy="488.4" r="1.6" fill="#868486" fill-opacity="1"/>
<circle cx="1012.1" cy="489.7" r="1.05" fill="#868486" fill-opacity="1"/>
<circle cx="1015.9" cy="490.9" r="1.05" fill="#868486" fill-opacity="1"/>
<circle cx="1010.9" cy="492.8" r="1.05" fill="#868486" fill-opacity="1"/>
<circle cx="1014.6" cy="494.7" r="1.05" fill="#868486" fill-opacity="1"/>
<circle cx="1009" cy="498.5" r="1.05" fill="#868486" fill-opacity="1"/>
<circle cx="1006.5" cy="502.2" r="1.05" fill="#868486" fill-opacity="1"/>
<circle cx="1018.4" cy="477.1" r="1.05" fill="#868486" fill-opacity="1"/>
<circle cx="1020.9" cy="480.2" r="1.05" fill="#868486" fill-opacity="1"/>
<path d="M924.1,453.8 L926,456.3 L928.5,458.2" fill="none" stroke="#868486" stroke-width="1.2" stroke-opacity="1" stroke-linejoin="round"/>
<circle cx="685.5" cy="407.6" r="0.9" fill="#333335" fill-opacity="1"/>
<circle cx="688" cy="405.1" r="0.9" fill="#333335" fill-opacity="1"/>
<circle cx="689.9" cy="408.2" r="0.9" fill="#333335" fill-opacity="1"/>
<circle cx="687.4" cy="410.7" r="0.9" fill="#333335" fill-opacity="1"/>
<circle cx="691.2" cy="420.8" r="0.9" fill="#333335" fill-opacity="1"/>
<circle cx="689.9" cy="424.6" r="0.9" fill="#333335" fill-opacity="1"/>
<circle cx="688.6" cy="428.3" r="0.9" fill="#333335" fill-opacity="1"/>
<circle cx="693" cy="428.3" r="0.9" fill="#333335" fill-opacity="1"/>
<circle cx="691.2" cy="432.7" r="0.9" fill="#333335" fill-opacity="1"/>
<circle cx="693" cy="435.9" r="0.9" fill="#333335" fill-opacity="1"/>
<circle cx="690.5" cy="439" r="0.9" fill="#333335" fill-opacity="1"/>
<circle cx="691.8" cy="442.8" r="0.9" fill="#333335" fill-opacity="1"/>
<circle cx="633.9" cy="451" r="0.85" fill="#163973" fill-opacity="0.95"/>
<circle cx="639" cy="449.1" r="0.85" fill="#163973" fill-opacity="0.95"/>
<circle cx="642.1" cy="450.3" r="0.85" fill="#163973" fill-opacity="0.95"/>
<circle cx="633.3" cy="454.7" r="0.85" fill="#163973" fill-opacity="0.95"/>
<circle cx="640.2" cy="452.9" r="0.85" fill="#163973" fill-opacity="0.95"/>
<circle cx="639" cy="456" r="0.85" fill="#163973" fill-opacity="0.95"/>
<circle cx="631.4" cy="458.5" r="0.85" fill="#163973" fill-opacity="0.95"/>
<circle cx="642.7" cy="458.5" r="0.85" fill="#163973" fill-opacity="0.95"/>
<circle cx="613.8" cy="464.2" r="0.85" fill="#163973" fill-opacity="0.95"/>
<circle cx="617.6" cy="465.4" r="0.85" fill="#163973" fill-opacity="0.95"/>
<circle cx="615.7" cy="466.7" r="0.85" fill="#163973" fill-opacity="0.95"/>
<circle cx="626.4" cy="465.4" r="0.85" fill="#163973" fill-opacity="0.95"/>
<circle cx="628.3" cy="464.2" r="0.85" fill="#163973" fill-opacity="0.95"/>
<circle cx="627.7" cy="467.3" r="0.85" fill="#163973" fill-opacity="0.95"/>
<circle cx="614.8" cy="463.9" r="0.8" fill="#163973" fill-opacity="0.9"/>
<circle cx="617.3" cy="466.5" r="0.8" fill="#163973" fill-opacity="0.9"/>
<circle cx="627.3" cy="465.2" r="0.8" fill="#163973" fill-opacity="0.9"/>
<circle cx="12.1" cy="379.9" r="0.75" fill="#d9d9d9" fill-opacity="0.8"/>
<circle cx="16.1" cy="380.4" r="0.75" fill="#d9d9d9" fill-opacity="0.8"/>
<circle cx="23.8" cy="375.6" r="0.75" fill="#d9d9d9" fill-opacity="0.8"/>
<circle cx="5.4" cy="382.5" r="0.75" fill="#d9d9d9" fill-opacity="0.8"/>
<circle cx="12.8" cy="377.1" r="0.75" fill="#d9d9d9" fill-opacity="0.8"/>
<circle cx="34.9" cy="379.2" r="0.75" fill="#d9d9d9" fill-opacity="0.8"/>
<circle cx="30.1" cy="379.3" r="0.75" fill="#d9d9d9" fill-opacity="0.8"/>
<circle cx="29.2" cy="429.8" r="0.75" fill="#d9d9d9" fill-opacity="0.8"/>
<circle cx="29" cy="462.1" r="0.75" fill="#d9d9d9" fill-opacity="0.8"/>
<circle cx="25.7" cy="456.4" r="0.75" fill="#d9d9d9" fill-opacity="0.8"/>
<circle cx="30.1" cy="425.9" r="0.75" fill="#d9d9d9" fill-opacity="0.8"/>
<circle cx="32.7" cy="449.6" r="0.75" fill="#d9d9d9" fill-opacity="0.8"/>
<circle cx="19" cy="424.4" r="0.75" fill="#d9d9d9" fill-opacity="0.8"/>
<circle cx="36" cy="444.3" r="0.75" fill="#d9d9d9" fill-opacity="0.8"/>
<circle cx="31.6" cy="462.5" r="0.75" fill="#d9d9d9" fill-opacity="0.8"/>
<circle cx="31.4" cy="464.4" r="0.75" fill="#d9d9d9" fill-opacity="0.8"/>
<circle cx="21.8" cy="459" r="0.75" fill="#d9d9d9" fill-opacity="0.8"/>
<circle cx="23.3" cy="465.1" r="0.75" fill="#d9d9d9" fill-opacity="0.8"/>
<circle cx="36.4" cy="427.4" r="0.75" fill="#d9d9d9" fill-opacity="0.8"/>
<circle cx="14.1" cy="432.8" r="0.75" fill="#d9d9d9" fill-opacity="0.8"/>
<circle cx="39" cy="442.6" r="0.75" fill="#d9d9d9" fill-opacity="0.8"/>
<circle cx="78.2" cy="480" r="0.75" fill="#d9d9d9" fill-opacity="0.8"/>
<circle cx="72.8" cy="483.4" r="0.75" fill="#d9d9d9" fill-opacity="0.8"/>
<circle cx="65.8" cy="491.4" r="0.75" fill="#d9d9d9" fill-opacity="0.8"/>
<circle cx="76.3" cy="504.2" r="0.75" fill="#d9d9d9" fill-opacity="0.8"/>
<circle cx="80.7" cy="505.2" r="0.75" fill="#d9d9d9" fill-opacity="0.8"/>
<circle cx="88.5" cy="507.6" r="0.75" fill="#d9d9d9" fill-opacity="0.8"/>
<circle cx="80.2" cy="474.5" r="0.75" fill="#d9d9d9" fill-opacity="0.8"/>
<circle cx="88.7" cy="506.6" r="0.75" fill="#d9d9d9" fill-opacity="0.8"/>
<circle cx="90.7" cy="490.8" r="0.75" fill="#d9d9d9" fill-opacity="0.8"/>
<circle cx="82.1" cy="476.4" r="0.75" fill="#d9d9d9" fill-opacity="0.8"/>
<circle cx="87.4" cy="490.9" r="0.75" fill="#d9d9d9" fill-opacity="0.8"/>
<circle cx="62.8" cy="470.5" r="0.75" fill="#d9d9d9" fill-opacity="0.8"/>
<circle cx="88.4" cy="507.6" r="0.75" fill="#d9d9d9" fill-opacity="0.8"/>
<circle cx="54" cy="500" r="0.75" fill="#d9d9d9" fill-opacity="0.8"/>
<circle cx="968.1" cy="401.8" r="0.75" fill="#d9d9d9" fill-opacity="0.8"/>
<circle cx="955.9" cy="429.6" r="0.75" fill="#d9d9d9" fill-opacity="0.8"/>
<circle cx="1016.6" cy="397" r="0.75" fill="#d9d9d9" fill-opacity="0.8"/>
<circle cx="989.5" cy="397" r="0.75" fill="#d9d9d9" fill-opacity="0.8"/>
<circle cx="1000.4" cy="409.9" r="0.75" fill="#d9d9d9" fill-opacity="0.8"/>
<circle cx="1017.5" cy="439.1" r="0.75" fill="#d9d9d9" fill-opacity="0.8"/>
<circle cx="978.1" cy="439.9" r="0.75" fill="#d9d9d9" fill-opacity="0.8"/>
<circle cx="957.5" cy="398.5" r="0.75" fill="#d9d9d9" fill-opacity="0.8"/>
<circle cx="988" cy="396.4" r="0.75" fill="#d9d9d9" fill-opacity="0.8"/>
<circle cx="945.7" cy="413.4" r="0.75" fill="#d9d9d9" fill-opacity="0.8"/>
<circle cx="989.1" cy="402" r="0.75" fill="#d9d9d9" fill-opacity="0.8"/>
<circle cx="929.5" cy="434.1" r="0.75" fill="#d9d9d9" fill-opacity="0.8"/>
<circle cx="958" cy="438.1" r="0.75" fill="#d9d9d9" fill-opacity="0.8"/>
<circle cx="1019.1" cy="412" r="0.75" fill="#d9d9d9" fill-opacity="0.8"/>
<circle cx="973.3" cy="418.4" r="0.75" fill="#d9d9d9" fill-opacity="0.8"/>
<circle cx="992.6" cy="421.8" r="0.75" fill="#d9d9d9" fill-opacity="0.8"/>
<circle cx="983.7" cy="422.9" r="0.75" fill="#d9d9d9" fill-opacity="0.8"/>
<circle cx="1023.8" cy="417.8" r="0.75" fill="#d9d9d9" fill-opacity="0.8"/>
<circle cx="970.3" cy="427.4" r="0.75" fill="#d9d9d9" fill-opacity="0.8"/>
<circle cx="950" cy="408.5" r="0.75" fill="#d9d9d9" fill-opacity="0.8"/>
<circle cx="1027.7" cy="418.5" r="0.75" fill="#d9d9d9" fill-opacity="0.8"/>
<circle cx="982.6" cy="395.5" r="0.75" fill="#d9d9d9" fill-opacity="0.8"/>
<circle cx="989.1" cy="317.4" r="0.75" fill="#d9d9d9" fill-opacity="0.8"/>
<circle cx="961.4" cy="318.5" r="0.75" fill="#d9d9d9" fill-opacity="0.8"/>
<circle cx="1004.3" cy="301.8" r="0.75" fill="#d9d9d9" fill-opacity="0.8"/>
<circle cx="1003.9" cy="314" r="0.75" fill="#d9d9d9" fill-opacity="0.8"/>
<circle cx="1007.5" cy="310.6" r="0.75" fill="#d9d9d9" fill-opacity="0.8"/>
<circle cx="1009.5" cy="322.1" r="0.75" fill="#d9d9d9" fill-opacity="0.8"/>
<circle cx="881.8" cy="562.4" r="0.75" fill="#d9d9d9" fill-opacity="0.8"/>
<circle cx="934.1" cy="598.5" r="0.75" fill="#d9d9d9" fill-opacity="0.8"/>
<circle cx="900.1" cy="578.3" r="0.75" fill="#d9d9d9" fill-opacity="0.8"/>
<circle cx="927.4" cy="572.8" r="0.75" fill="#d9d9d9" fill-opacity="0.8"/>
<circle cx="909.1" cy="572.5" r="0.75" fill="#d9d9d9" fill-opacity="0.8"/>
<path d="M928.5,288.1 L922.9,294.7 L915.3,301.7 L907.8,306.9 L902.7,309.5" fill="none" stroke="#7c80a7" stroke-width="1.5" stroke-dasharray="2.2 2.6"/>
<path d="M975.2,280.3 L987.7,283.3 L1000.3,284.8 L1015.4,282.8 L1033,279.2" fill="none" stroke="#d9d9d9" stroke-width="1.5" stroke-dasharray="2.2 2.6"/>
<path d="M747.3,402.7 L746.3,411.5 L748.3,420.3" fill="none" stroke="#868486" stroke-width="1.3" stroke-dasharray="1.5 2.2"/>
<path d="M294.7,386.5 L303.5,390.3 L308,399.1 L306,406.6 L301,410.4" fill="none" stroke="#d9d9d9" stroke-width="1.2" stroke-dasharray="1.2 2"/>
<path d="M255.7,365.1 L262,371.4 L269.6,377.7 L277.1,381.5" fill="none" stroke="#d9d9d9" stroke-width="1.2" stroke-dasharray="1.2 2"/>
<circle cx="679.5" cy="585" r="1.3" fill="#d9d9d9" fill-opacity="1"/>
<circle cx="217" cy="440" r="0.8" fill="#d0d0d0" fill-opacity="1"/>
<circle cx="221" cy="441.5" r="0.8" fill="#d0d0d0" fill-opacity="1"/>
<circle cx="224" cy="440.5" r="0.8" fill="#d0d0d0" fill-opacity="1"/>
<circle cx="226" cy="444" r="0.8" fill="#d0d0d0" fill-opacity="1"/>
<!--/MAP-->
</svg>
<div id="sq"></div>
<div class="t" id="t1">PHÂN PHỐI NGƯỜI DÙNG MOBILE MONEY THEO KHU VỰC</div>
<div class="t" id="t2">VÀO CUỐI NĂM 2018 <i>(Nguồn: GSMA)</i></div>

<div class="pill" id="p1" style="left:816px;top:119px;background:#7b7fa9;"><div class="l" style="top:10px">CHÂU ÂU - TRUNG Á</div><div class="n" style="top:24px">1,4%</div></div>
<div class="pill" id="p2" style="left:336px;top:275.5px;background:#1c97c6;"><div class="l" style="top:10.5px">TRUNG ĐÔNG - BẮC PHI</div><div class="n" style="top:24.5px">5,6%</div></div>
<div class="pill" id="p3" style="left:102.5px;top:470px;background:#77c0e0;color:#0f3b4e;"><div class="l" style="top:10px">MỸ LATINH - CARIBBEAN</div><div class="n" style="top:24px">3,1%</div></div>
<div class="pill" id="p4" style="left:398.5px;top:536.5px;background:#17376c;"><div class="l" style="top:11.5px">CHÂU PHI HẠ SAHARA</div><div class="n" style="top:27px">45,6%</div></div>
<div class="pill" id="p5" style="left:644px;top:444.5px;background:#333335;"><div class="l" style="top:10.5px;left:-21.5px;right:-18.5px">NAM Á</div><div class="n" style="top:24.5px">33,2%</div></div>
<div class="pill" id="p6" style="left:808px;top:334px;background:#868486;"><div class="l" style="top:5.5px;left:-22px;right:-18px">ĐÔNG Á</div><div class="l" style="top:18.5px">THÁI BÌNH DƯƠNG</div><div class="n" style="top:31px">11,0%</div></div>
</body>
</html>
